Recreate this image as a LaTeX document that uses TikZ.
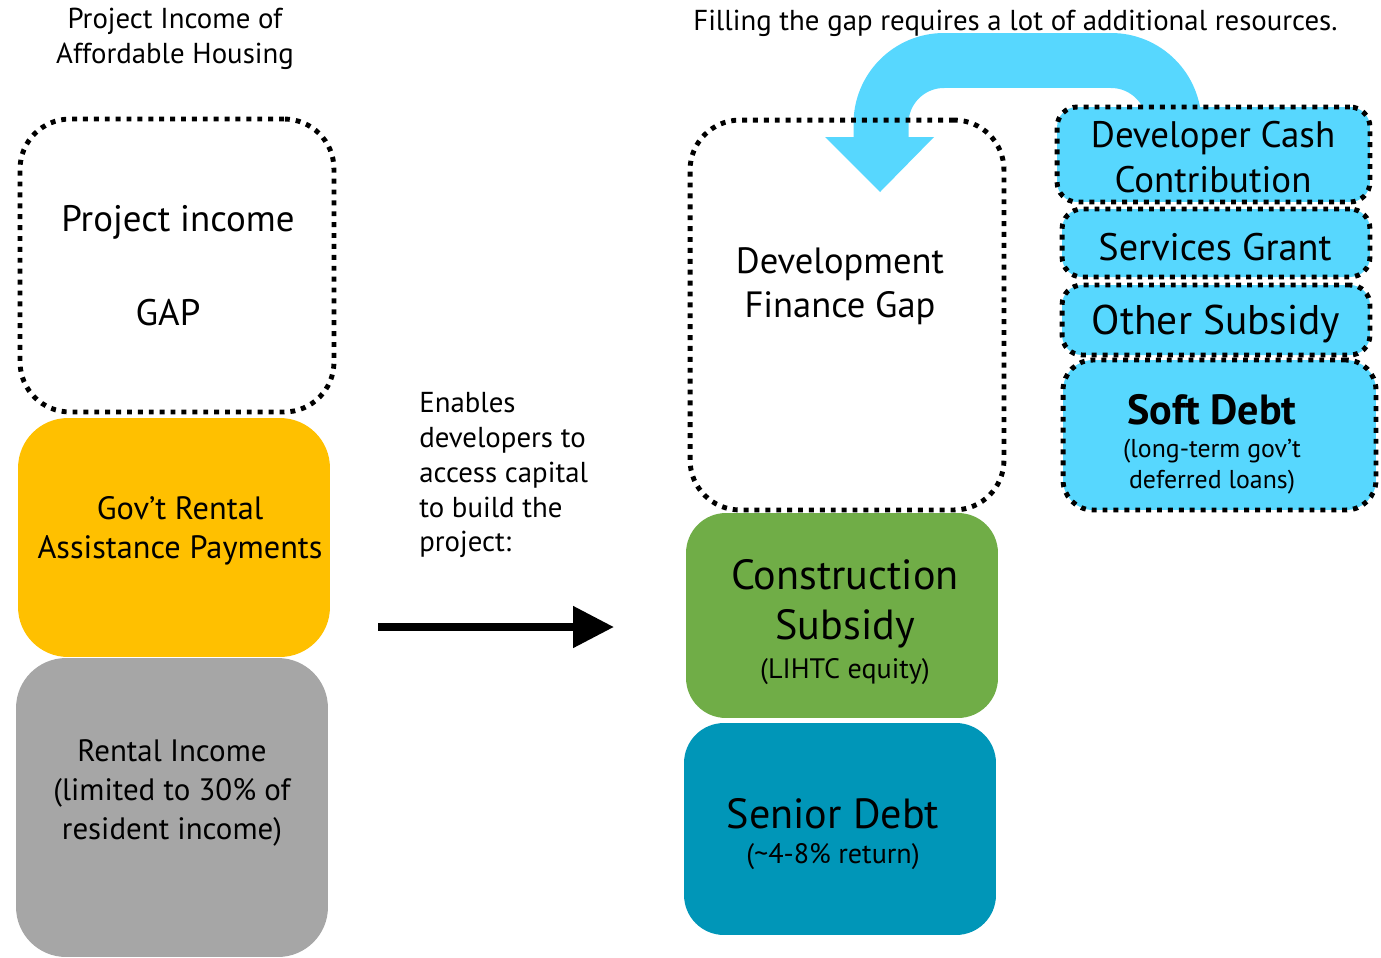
\documentclass[tikz,border=0pt]{standalone}
\usepackage{fontspec}
\setmainfont{PT Sans}
\usetikzlibrary{arrows.meta,positioning}

\definecolor{govyellow}{HTML}{FFC000}
\definecolor{rentgray}{HTML}{A6A6A6}
\definecolor{subgreen}{HTML}{70AD47}
\definecolor{debtteal}{HTML}{0096B8}
\definecolor{fillblue}{HTML}{57D7FE}

\tikzset{
  dotted box/.style={draw=black, line width=2.8pt, dash pattern=on 2.8pt off 3.4pt, inner sep=0pt},
  stack box/.style={rounded corners=1cm, inner sep=0pt},
  ttl/.style={font=\fontsize{16.4}{19.9}\selectfont, align=center, inner sep=0pt},
  txtbig/.style={font=\fontsize{24}{28.4}\selectfont, align=center, inner sep=0pt},
  txtmid/.style={font=\fontsize{18}{22.2}\selectfont, align=center, inner sep=0pt},
  txtsmall/.style={font=\fontsize{16}{17.6}\selectfont, align=center, inner sep=0pt},
}

\begin{document}
\begin{tikzpicture}[x=0.02cm, y=-0.02cm]
    \useasboundingbox (0,0) rectangle (1381,957);

    % left stack: project income
    \node[dotted box, rounded corners=1cm, minimum width=6.28cm, minimum height=5.86cm] (incgap) at (177,265.5) {};
    \node[stack box, fill=govyellow, minimum width=6.24cm, minimum height=4.78cm] (govpay) at (174,537.5) {};
    \node[stack box, fill=rentgray, minimum width=6.24cm, minimum height=5.98cm] (rentinc) at (172,807.5) {};

    \node[ttl] (lefttitle) at (175,38.5) {Project Income of\\Affordable Housing};
    \node[txtbig, font=\fontsize{21}{25}\selectfont] (incA) at (178,222) {Project income};
    \node[txtbig, font=\fontsize{21}{25}\selectfont] (incB) at (168,313) {GAP};
    \node[txtmid, font=\fontsize{18.4}{22}\selectfont] (govtxt) at (180,530.5) {Gov’t Rental\\Assistance Payments};
    \node[txtmid, font=\fontsize{17.6}{22.2}\selectfont] (renttxt) at (172,793) {Rental Income\\(limited to 30\% of\\resident income)};

    % middle: enables
    \node[ttl, align=left, anchor=west] (enable) at (419,475) {Enables\\developers to\\access capital\\to build the\\project:};
    \coordinate (arrS) at (378,627);
    \coordinate (arrE) at (614,627);
    \draw[line width=0.16cm, -{Triangle[length=0.82cm, width=0.8cm]}] (arrS) -- (arrE);

    % loop arrow from extra resources into the gap
    \coordinate (loopS) at (1174,150);
    \coordinate (loopA) at (1174,60.5);
    \coordinate (loopB) at (881,60.5);
    \coordinate (loopE) at (881,138);
    \draw[fillblue, line width=1.1cm, rounded corners=1.26cm] (loopS) -- (loopA) -- (loopB) -- (loopE);
    \fill[fillblue] (825,137) -- (934,137) -- (880,192) -- cycle;

    % right stack: development finance
    \node[dotted box, rounded corners=1cm, minimum width=6.28cm, minimum height=7.8cm] (devgap) at (847,315) {};
    \node[stack box, rounded corners=0.8cm, fill=subgreen, minimum width=6.24cm, minimum height=4.1cm] (consub) at (842,615.5) {};
    \node[stack box, rounded corners=0.8cm, fill=debtteal, minimum width=6.24cm, minimum height=4.24cm] (sendebt) at (840,829) {};

    \node[ttl, anchor=west] (righttitle) at (693,23) {Filling the gap requires a lot of additional resources.};
    \node[font=\fontsize{20.8}{25}\selectfont, align=center, inner sep=0pt] (devtxt) at (840,286) {Development\\Finance Gap};
    \node[txtbig] (contxt) at (845,604) {Construction\\Subsidy};
    \node[txtsmall] (lihtc) at (845,672) {(LIHTC equity)};
    \node[txtbig] (sentxt) at (833,814) {Senior Debt};
    \node[txtsmall] (senret) at (833,857) {(\textasciitilde4-8\% return)};

    % extra resources
    \node[dotted box, rounded corners=0.4cm, fill=fillblue, minimum width=6.26cm, minimum height=1.9cm] (devcash) at (1213.5,154.5) {};
    \node[dotted box, rounded corners=0.4cm, fill=fillblue, minimum width=6.16cm, minimum height=1.36cm] (servgr) at (1216,243) {};
    \node[dotted box, rounded corners=0.4cm, fill=fillblue, minimum width=6.16cm, minimum height=1.4cm] (othsub) at (1216,320) {};
    \node[dotted box, rounded corners=0.6cm, fill=fillblue, minimum width=6.26cm, minimum height=3.0cm] (softd) at (1219.5,435) {};

    \node[font=\fontsize{21}{25.6}\selectfont, align=center, inner sep=0pt] (dcctxt) at (1213,157) {Developer Cash\\Contribution};
    \node[font=\fontsize{21.8}{24}\selectfont, inner sep=0pt] (sgtxt) at (1215,247) {Services Grant};
    \node[txtbig, font=\fontsize{23.6}{26}\selectfont] (ostxt) at (1216,324) {Other Subsidy};
    \node[txtbig, font=\fontsize{24}{26}\selectfont\bfseries] (sdtxt) at (1212,410) {Soft Debt};
    \node[txtsmall, font=\fontsize{14.7}{17.6}\selectfont] (sdsub) at (1212,467) {(long-term gov’t\\deferred loans)};
\end{tikzpicture}
\end{document}
